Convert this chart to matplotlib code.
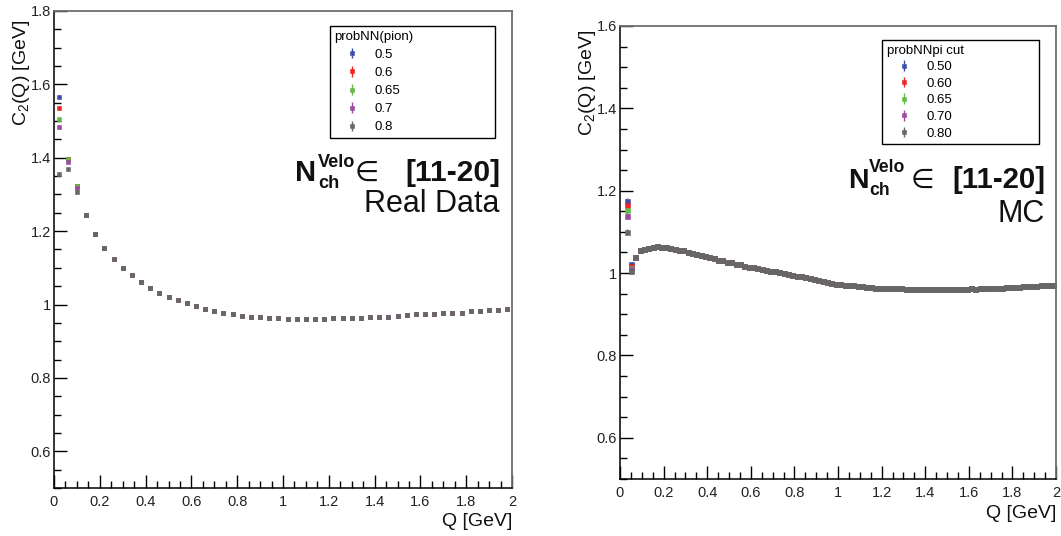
import numpy as np
import matplotlib
matplotlib.use("Agg")
import matplotlib.pyplot as plt
from matplotlib.ticker import MultipleLocator, FuncFormatter
from matplotlib.legend_handler import HandlerErrorbar
from matplotlib.container import ErrorbarContainer

plt.rcParams["font.family"] = ["Liberation Sans", "DejaVu Sans"]
plt.rcParams["mathtext.fontset"] = "custom"
plt.rcParams["mathtext.rm"] = "Liberation Sans"
plt.rcParams["mathtext.it"] = "Liberation Sans:italic"
plt.rcParams["mathtext.bf"] = "Liberation Sans:bold"

W, H, DPI = 1061, 536, 100

# ---------------- data ----------------
series_colors = ["#3b4fa8", "#ee2525", "#66bb47", "#9b4b9f", "#676767"]
labels_data = ["0.5", "0.6", "0.65", "0.7", "0.8"]
labels_mc = ["0.50", "0.60", "0.65", "0.70", "0.80"]

# Real data, 0.04 GeV bins; the first three bins differ between cuts
q_data = np.linspace(0.02, 1.98, 50)
head_data = [
    [1.566, 1.397, 1.322],
    [1.536, 1.397, 1.322],
    [1.505, 1.396, 1.323],
    [1.484, 1.389, 1.318],
    [1.355, 1.369, 1.308],
]
head_err_data = [0.006, 0.004, 0.003]
tail_data = [
    1.244, 1.193,
    1.155, 1.124, 1.099, 1.080, 1.061, 1.045, 1.032, 1.021, 1.012, 1.004,
    0.996, 0.987, 0.982, 0.977, 0.974, 0.970, 0.966, 0.966, 0.964, 0.963,
    0.961, 0.960, 0.960, 0.960, 0.961, 0.962, 0.963, 0.964, 0.964, 0.966,
    0.966, 0.967, 0.968, 0.972, 0.973, 0.973, 0.975, 0.978, 0.978, 0.978,
    0.982, 0.983, 0.986, 0.985, 0.988,
]
tail_err_data = 0.002

# Monte Carlo, 0.02 GeV bins starting at 0.02 GeV; the first two bins differ
q_mc = np.linspace(0.03, 1.99, 99)
head_mc = [
    [1.176, 1.021],
    [1.166, 1.017],
    [1.153, 1.013],
    [1.138, 1.010],
    [1.100, 1.006],
]
head_err_mc = [0.007, 0.004]
tail_mc = [
    1.040, 1.055, 1.059, 1.062, 1.064, 1.065, 1.064, 1.063, 1.061, 1.059,
    1.057, 1.055, 1.052, 1.049, 1.046, 1.043, 1.041, 1.038, 1.036, 1.033,
    1.031, 1.028, 1.026, 1.023, 1.021, 1.018, 1.016, 1.014, 1.012, 1.010,
    1.008, 1.006, 1.004, 1.002, 1.000, 0.998, 0.996, 0.994, 0.992, 0.990,
    0.988, 0.986, 0.984, 0.980, 0.978, 0.976, 0.974,
    0.973, 0.972, 0.971, 0.970, 0.969, 0.968, 0.967, 0.966, 0.965, 0.965,
    0.964, 0.964, 0.963, 0.963, 0.963, 0.962, 0.962, 0.962, 0.962, 0.961,
    0.962, 0.961, 0.961, 0.962, 0.961, 0.962, 0.962, 0.961, 0.962, 0.962,
    0.963, 0.962, 0.963, 0.964, 0.963, 0.965, 0.964, 0.965, 0.966, 0.966,
    0.967, 0.966, 0.968, 0.968, 0.969, 0.968, 0.970, 0.971, 0.970, 0.972,
]
tail_err_mc = 0.002


# ---------------- layout helpers ----------------
def px_box(x0, y0, x1, y1):
    """Rectangle given in pixels (top-left origin) -> figure fraction."""
    return [x0 / W, 1 - y1 / H, (x1 - x0) / W, (y1 - y0) / H]


def px(x, y):
    return x / W, 1 - y / H


fig = plt.figure(figsize=(W / DPI, H / DPI), dpi=DPI)
fig.patch.set_facecolor("white")
ax_d = fig.add_axes(px_box(54, 11, 512, 488))
ax_m = fig.add_axes(px_box(620, 26, 1056, 479))


def style_axes(ax, ymax):
    ax.set_xlim(0, 2)
    ax.set_ylim(0.5, ymax)
    ax.xaxis.set_major_locator(MultipleLocator(0.2))
    ax.xaxis.set_minor_locator(MultipleLocator(0.05))
    ax.yaxis.set_major_locator(MultipleLocator(0.2))
    ax.yaxis.set_minor_locator(MultipleLocator(0.05))
    fmt = FuncFormatter(lambda v, pos: f"{v:g}")
    ax.xaxis.set_major_formatter(fmt)
    ax.yaxis.set_major_formatter(fmt)
    ax.tick_params(which="both", direction="in", top=False, right=False,
                   color="black", width=1.0, labelcolor="#222222")
    ax.tick_params(which="major", length=9.5, labelsize=10.5)
    ax.tick_params(which="minor", length=4.8)
    ax.tick_params(axis="y", pad=2)
    ax.tick_params(axis="x", pad=5)
    for side in ("left", "bottom"):
        ax.spines[side].set_color("black")
        ax.spines[side].set_linewidth(1.1)
    for side in ("top", "right"):
        ax.spines[side].set_color("#6e6e6e")
        ax.spines[side].set_linewidth(1.3)


def draw_series(ax, q, heads, head_err, tail, tail_err, labels, ms):
    handles = []
    n_tail = len(tail)
    for color, head, label in zip(series_colors, heads, labels):
        vals = list(head) + list(tail)
        errs = list(head_err) + [tail_err] * n_tail
        eb = ax.errorbar(q, vals, yerr=errs, fmt="s", ms=ms, mew=0.4,
                         color=color, mec=color, mfc=color, ecolor=color,
                         elinewidth=1.0, capsize=0, label=label)
        handles.append(eb)
    return handles


style_axes(ax_d, 1.8)
style_axes(ax_m, 1.6)

h_d = draw_series(ax_d, q_data, head_data, head_err_data, tail_data,
                  tail_err_data, labels_data, 3.4)
h_m = draw_series(ax_m, q_mc, head_mc, head_err_mc, tail_mc,
                  tail_err_mc, labels_mc, 3.6)


def add_legend(ax, handles, labels, title, box, spacing):
    leg = ax.legend(handles, labels, title=title, loc="upper left",
                    bbox_to_anchor=px_box(*box), bbox_transform=fig.transFigure,
                    mode="expand", borderaxespad=0, borderpad=0.35,
                    handlelength=2.6, handletextpad=0.4, labelspacing=spacing,
                    fontsize=9.5, title_fontsize=9.5, alignment="left",
                    fancybox=False, framealpha=1, numpoints=1, markerscale=0.8,
                    handler_map={ErrorbarContainer: HandlerErrorbar(yerr_size=0.4)})
    leg.get_frame().set_edgecolor("black")
    leg.get_frame().set_linewidth(1.0)
    return leg


add_legend(ax_d, h_d, labels_data, "probNN(pion)", (330, 26, 495, 136), 0.45)
add_legend(ax_m, h_m, labels_mc, "probNNpi cut", (882, 40, 1039, 145), 0.33)

# axis titles
fig.text(*px(22, 20), r"C$_\mathregular{2}$(Q) [GeV]", rotation=90,
         ha="center", va="top", fontsize=14, color="#111111")
fig.text(*px(587, 30), r"C$_\mathregular{2}$(Q) [GeV]", rotation=90,
         ha="center", va="top", fontsize=14, color="#111111")
fig.text(*px(512, 522), "Q [GeV]", ha="right", va="center", fontsize=14,
         color="#111111")
fig.text(*px(1056, 513), "Q [GeV]", ha="right", va="center", fontsize=14,
         color="#111111")

# multiplicity-bin annotations
bold_font = ["Liberation Sans", "DejaVu Sans"]
sym_font = ["DejaVu Sans"]


def multiplicity_label(x_n, x_sup, x_in, x_right, base, sup_base, sub_base,
                       sample, sample_base, size):
    common = dict(ha="left", va="baseline", color="#111111")
    fig.text(*px(x_n, base), "N", fontsize=size, fontweight="bold",
             family=bold_font, **common)
    fig.text(*px(x_sup, sup_base), "Velo", fontsize=size * 0.62,
             fontweight="bold", family=bold_font, **common)
    fig.text(*px(x_sup, sub_base), "ch", fontsize=size * 0.62,
             fontweight="bold", family=bold_font, **common)
    fig.text(*px(x_in, base), "\u2208", fontsize=size * 0.95, family=sym_font,
             **common)
    fig.text(*px(x_right, base), "[11-20]", fontsize=size * 1.03,
             fontweight="bold", family=bold_font, ha="right", va="baseline",
             color="#111111")
    fig.text(*px(x_right, sample_base), sample, fontsize=22,
             ha="right", va="baseline", color="#111111")


multiplicity_label(295, 318, 355, 500, 181, 167, 188, "Real Data", 212, 21)
multiplicity_label(848, 869, 911, 1045, 188, 172, 195, "MC", 222, 20.5)

fig.savefig("out.png", dpi=DPI, facecolor="white")
